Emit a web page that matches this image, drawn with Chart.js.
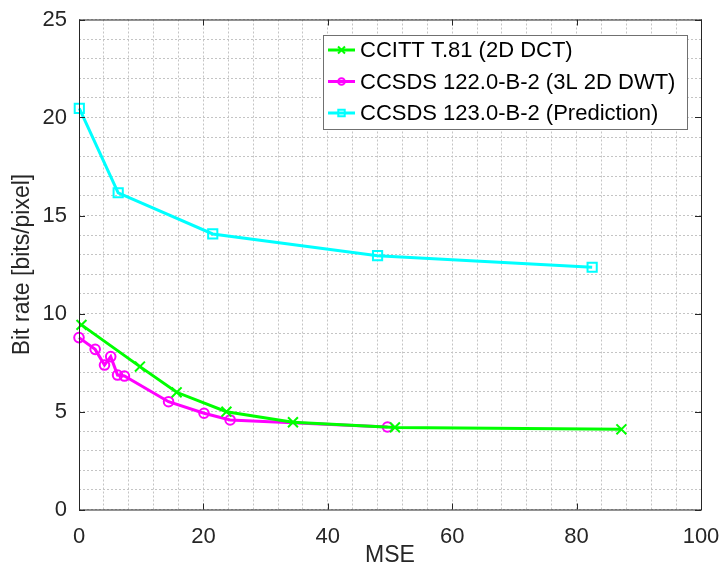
<!DOCTYPE html>
<html>
<head>
<meta charset="utf-8">
<script src="https://cdn.jsdelivr.net/npm/chart.js@4/dist/chart.umd.min.js"></script>
<style>
  html, body { margin: 0; padding: 0; background: #ffffff; }
  #wrap { width: 721px; height: 569px; position: relative; }
</style>
</head>
<body>
<div id="wrap"><canvas id="c" width="721" height="569"></canvas></div>
<script>
// Rate–distortion curves of three image compression standards
const seriesNames = [
  'CCITT T.81 (2D DCT)',
  'CCSDS 122.0-B-2 (3L 2D DWT)',
  'CCSDS 123.0-B-2 (Prediction)'
];
const dctMse  = [0.4, 9.8, 15.7, 23.7, 34.4, 50.8, 87.2];
const dctRate = [9.42, 7.29, 5.98, 4.99, 4.45, 4.19, 4.09];
const dwtMse  = [0.0, 2.6, 4.1, 5.1, 6.2, 7.3, 14.4, 20.1, 24.3, 49.6];
const dwtRate = [8.77, 8.17, 7.37, 7.8, 6.86, 6.81, 5.5, 4.91, 4.57, 4.21];
const predMse  = [0.05, 6.3, 21.5, 48.0, 82.5];
const predRate = [20.47, 16.16, 14.06, 12.95, 12.36];
const xMajorTicks = [0, 20, 40, 60, 80, 100];
const yMajorTicks = [0, 5, 10, 15, 20, 25];

const pts = (xs, ys) => xs.map((x, i) => ({ x: x, y: ys[i] }));
const FONT = "'Liberation Sans', Arial, Helvetica, sans-serif";
const INK = '#262626';

function mkSet(label, data, color, style, radius) {
  return {
    label: label,
    data: data,
    showLine: true,
    borderColor: color,
    backgroundColor: color,
    borderWidth: 3,
    pointStyle: style,
    pointRadius: radius,
    pointHoverRadius: radius,
    pointBorderColor: color,
    pointBackgroundColor: 'rgba(0,0,0,0)',
    pointBorderWidth: 2,
    clip: false,
    tension: 0
  };
}

// Axes frame with inward major ticks on all four sides
const framePlugin = {
  id: 'frame',
  afterDatasetsDraw(chart) {
    const { ctx, chartArea: a, scales } = chart;
    ctx.save();
    ctx.strokeStyle = INK;
    ctx.lineWidth = 1;
    ctx.setLineDash([]);
    ctx.strokeRect(a.left + 0.5, a.top + 0.5, a.right - a.left, a.bottom - a.top);
    const tl = 6;
    ctx.beginPath();
    xMajorTicks.forEach(v => {
      const px = Math.round(scales.x.getPixelForValue(v)) + 0.5;
      ctx.moveTo(px, a.bottom); ctx.lineTo(px, a.bottom - tl);
      ctx.moveTo(px, a.top); ctx.lineTo(px, a.top + tl);
    });
    yMajorTicks.forEach(v => {
      const py = Math.round(scales.y.getPixelForValue(v)) + 0.5;
      ctx.moveTo(a.left, py); ctx.lineTo(a.left + tl, py);
      ctx.moveTo(a.right, py); ctx.lineTo(a.right - tl, py);
    });
    ctx.stroke();
    ctx.restore();
  }
};

// Boxed legend in the upper right of the plot area
const legendBoxPlugin = {
  id: 'legendBox',
  afterDraw(chart) {
    const ctx = chart.ctx;
    const bx = 323, by = 35, bw = 364, bh = 94;
    ctx.save();
    ctx.fillStyle = '#ffffff';
    ctx.fillRect(bx, by, bw, bh);
    ctx.strokeStyle = '#707070';
    ctx.lineWidth = 1;
    ctx.strokeRect(bx + 0.5, by + 0.5, bw, bh);
    ctx.font = '22px ' + FONT;
    ctx.textBaseline = 'middle';
    ctx.textAlign = 'left';
    chart.data.datasets.forEach((ds, i) => {
      const cy = by + 15 + i * 31.5;
      ctx.strokeStyle = ds.borderColor;
      ctx.lineWidth = 3;
      ctx.beginPath();
      ctx.moveTo(bx + 5, cy); ctx.lineTo(bx + 32, cy);
      ctx.stroke();
      const opts = {
        pointStyle: ds.pointStyle,
        radius: ds.pointRadius * 0.7,
        rotation: 0,
        borderWidth: 2
      };
      ctx.fillStyle = 'rgba(0,0,0,0)';
      ctx.strokeStyle = ds.borderColor;
      ctx.lineWidth = 2;
      Chart.helpers.drawPoint(ctx, opts, bx + 18.5, cy);
      ctx.fillStyle = '#000000';
      ctx.fillText(ds.label, bx + 37, cy + 1);
    });
    ctx.restore();
  }
};

new Chart(document.getElementById('c'), {
  type: 'scatter',
  data: {
    datasets: [
      mkSet(seriesNames[0], pts(dctMse, dctRate), '#00ff00', 'crossRot', 7),
      mkSet(seriesNames[1], pts(dwtMse, dwtRate), '#ff00ff', 'circle', 4.8),
      mkSet(seriesNames[2], pts(predMse, predRate), '#00ffff', 'rect', 6.5)
    ]
  },
  options: {
    responsive: false,
    animation: false,
    devicePixelRatio: 1,
    layout: { padding: { top: 19.5, right: 20, left: 0, bottom: 0 } },
    plugins: {
      legend: { display: false },
      tooltip: { enabled: false }
    },
    scales: {
      x: {
        type: 'linear',
        min: 0, max: 100,
        afterFit(s) { s.height = 59.5; s.paddingLeft = 0; s.paddingRight = 0; },
        ticks: {
          stepSize: 4,
          autoSkip: false,
          maxRotation: 0, minRotation: 0,
          padding: 14,
          color: INK,
          font: { family: FONT, size: 22 },
          callback: v => (xMajorTicks.includes(v) ? String(v) : '')
        },
        grid: { color: '#c4c4c4', lineWidth: 1, drawTicks: false },
        border: { display: false, dash: [2, 2] },
        title: {
          display: true, text: 'MSE', color: INK,
          font: { family: FONT, size: 23 },
          padding: { top: 0, bottom: 0 }
        }
      },
      y: {
        type: 'linear',
        min: 0, max: 25,
        afterFit(s) { s.width = 79; s.paddingTop = 0; s.paddingBottom = 0; },
        ticks: {
          stepSize: 1,
          autoSkip: false,
          padding: 12,
          color: INK,
          font: { family: FONT, size: 22 },
          callback: v => (yMajorTicks.includes(v) ? String(v) : '')
        },
        grid: { color: '#c4c4c4', lineWidth: 1, drawTicks: false },
        border: { display: false, dash: [2, 2] },
        title: {
          display: true, text: 'Bit rate [bits/pixel]', color: INK,
          font: { family: FONT, size: 23 },
          padding: { top: 9, bottom: 0 }
        }
      }
    }
  },
  plugins: [framePlugin, legendBoxPlugin]
});
</script>
</body>
</html>
